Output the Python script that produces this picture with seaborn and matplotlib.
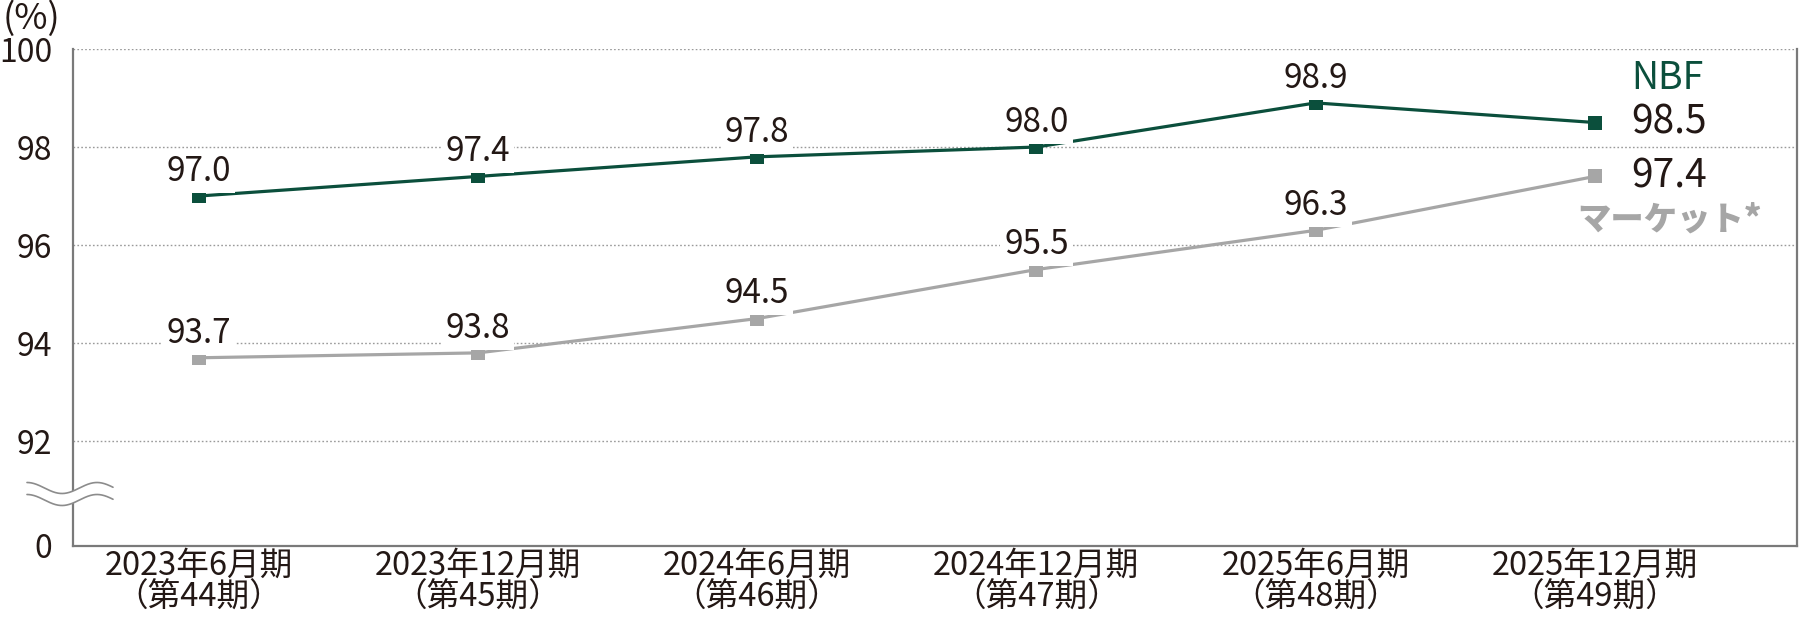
import numpy as np
import pandas as pd
import matplotlib
matplotlib.use("Agg")
import matplotlib.pyplot as plt
import seaborn as sns
from matplotlib.lines import Line2D
from matplotlib.patches import Polygon

# ---------------- data ----------------
periods = [
    "2023年6月期\n（第44期）",
    "2023年12月期\n（第45期）",
    "2024年6月期\n（第46期）",
    "2024年12月期\n（第47期）",
    "2025年6月期\n（第48期）",
    "2025年12月期\n（第49期）",
]
nbf = [97.0, 97.4, 97.8, 98.0, 98.9, 98.5]
market = [93.7, 93.8, 94.5, 95.5, 96.3, 97.4]
series_names = ["NBF", "マーケット*"]
y_ticks = [92, 94, 96, 98, 100]
y_tick_labels = ["92", "94", "96", "98", "100"]
zero_label = "0"
unit_label = "(%)"

# ---------------- style ----------------
GREEN = "#0b4f3c"
GRAY = "#a6a6a6"
TEXT = "#231815"
SPINE = "#7a7a7a"
Y_FLOOR = 89.86  # visual floor below the axis break (labelled 0)

sns.set_style("white")
plt.rcParams["font.family"] = ["Noto Sans CJK JP", "DejaVu Sans"]

W, H = 1800, 618
fig = plt.figure(figsize=(W / 100, H / 100), dpi=100)
ax = fig.add_axes([73 / W, 1 - 546 / H, (1797 - 73) / W, (546 - 49) / H])

x = list(range(len(periods)))
df = pd.DataFrame({
    "x": x * 2,
    "value": nbf + market,
    "series": [series_names[0]] * len(nbf) + [series_names[1]] * len(market),
})

# gridlines
for yv in y_ticks:
    ax.axhline(yv, color="#9a9a9a", lw=1.0, ls=(0, (1.2, 1.6)), zorder=0)

sns.lineplot(data=df, x="x", y="value", hue="series",
             palette={series_names[0]: GREEN, series_names[1]: GRAY},
             hue_order=series_names[::-1],
             marker="s", markersize=10, markeredgewidth=0,
             linewidth=2.3, legend=False, ax=ax, zorder=3)

ax.set_xlim(-0.45, 5.724)
ax.set_ylim(Y_FLOOR, 100)
ax.set_xlabel("")
ax.set_ylabel("")

ax.set_yticks([Y_FLOOR] + y_ticks)
ax.set_yticklabels([zero_label] + y_tick_labels, fontsize=23, color=TEXT)
ax.set_xticks(x)
ax.set_xticklabels(periods, fontsize=23.5, color=TEXT, linespacing=1.0)
ax.tick_params(axis="y", length=0, pad=15)
ax.tick_params(axis="x", length=0, pad=3)
ax.grid(False)

for side in ["left", "bottom", "right"]:
    ax.spines[side].set_color(SPINE)
    ax.spines[side].set_linewidth(1.6)
    ax.spines[side].set_visible(True)
ax.spines["top"].set_visible(False)

# data labels
bbox = dict(boxstyle="square,pad=0.12", fc="white", ec="none")
for vals in (nbf, market):
    for i, v in enumerate(vals[:-1]):
        ax.annotate(f"{v:.1f}", (i, v), xytext=(0, 11), textcoords="offset points",
                    ha="center", va="baseline", fontsize=24, color=TEXT,
                    bbox=bbox, zorder=4)
    ax.annotate(f"{vals[-1]:.1f}", (len(vals) - 1, vals[-1]), xytext=(26, 0),
                textcoords="offset points", ha="left", va="center",
                fontsize=28, color=TEXT, zorder=4)

# series names
ax.annotate(series_names[0], (len(nbf) - 1, nbf[-1]), xytext=(52, 24),
            textcoords="offset points", ha="center", va="baseline",
            fontsize=27, color=GREEN, fontweight="normal", zorder=4)
ax.annotate(series_names[1], (len(market) - 1, market[-1]), xytext=(54, -31),
            textcoords="offset points", ha="center", va="center",
            fontsize=24, color=GRAY, fontweight="black", zorder=4)

# unit label
fig.text(31 / W, 1 - 19 / H, unit_label, ha="center", va="center",
         fontsize=26, color=TEXT)

# axis break mark (decoration)
xs = np.linspace(27, 113, 200)
phase = 2 * np.pi * (xs - 27) / 70
y1 = 488 - 5.5 * np.cos(phase)
y2 = 500 - 5.5 * np.cos(phase)
poly = np.column_stack([np.r_[xs, xs[::-1]], np.r_[y1, y2[::-1]]])
poly_fig = np.column_stack([poly[:, 0] / W, 1 - poly[:, 1] / H])
fig.add_artist(Polygon(poly_fig, closed=True, fc="white", ec="none",
                       transform=fig.transFigure, zorder=10))
for yy in (y1, y2):
    fig.add_artist(Line2D(xs / W, 1 - yy / H, color="#8c8c8c", lw=1.2,
                          transform=fig.transFigure, zorder=11))

fig.savefig("out.png", dpi=100)
